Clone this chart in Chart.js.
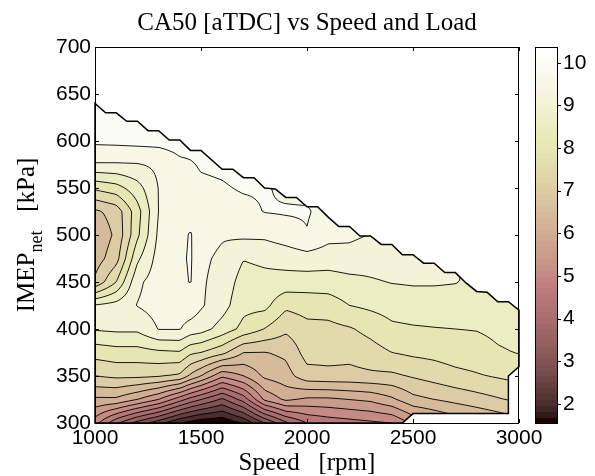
<!DOCTYPE html>
<html>
<head>
<meta charset="utf-8">
<script src="https://cdn.jsdelivr.net/npm/chart.js@4.4.1/dist/chart.umd.min.js"></script>
<style>
  html, body { margin: 0; padding: 0; background: #fff; }
</style>
</head>
<body>
<canvas id="chart" width="595" height="476"></canvas>
<script>
// engine speed columns [rpm] and load rows [kPa] of the CA50 map
const speeds = [1000, 1100, 1200, 1300, 1400, 1450, 1500, 1600, 1700, 1800, 1900, 2000, 2100, 2200, 2300, 2400, 2500, 2600, 2700, 2800, 2900, 3000];
const loads = [300, 325, 350, 375, 400, 425, 450, 475, 500, 525, 550, 575, 600, 625, 650];

// CA50 [deg aTDC], one row per load
const ca50At300 = [5.2, 4.1, 3.3, 2.7, 2.0, 1.8, 1.62, 1.55, 2.05, 3.0, 3.9, 4.5, 4.7, 4.8, 4.9, 5.0, 5.6, 5.9, 6.2, 6.4, 6.6, 6.8];
const ca50At325 = [6.4, 6.4, 6.0, 5.5, 4.7, 4.3, 4.0, 3.4, 4.2, 5.6, 6.1, 5.9, 5.9, 6.0, 6.1, 6.4, 6.85, 7.0, 7.15, 7.3, 7.45, 7.6];
const ca50At350 = [7.5, 7.6, 7.6, 7.55, 7.4, 6.9, 6.5, 5.6, 6.0, 6.6, 6.8, 7.3, 7.35, 7.35, 7.4, 7.4, 7.55, 7.7, 7.85, 7.95, 8.05, 8.15];
const ca50At375 = [8.2, 8.3, 8.3, 8.4, 8.45, 8.1, 8.0, 7.65, 7.0, 6.98, 7.1, 7.7, 7.7, 7.65, 7.8, 8.0, 8.1, 8.15, 8.25, 8.3, 8.45, 8.52];
const ca50At400 = [9.05, 9.1, 9.1, 9.52, 9.52, 9.3, 9.2, 8.8, 8.35, 7.98, 7.6, 7.85, 7.85, 7.95, 8.15, 8.4, 8.45, 8.48, 8.5, 8.52, 8.6, 8.65];
const ca50At425 = [9.05, 9.2, 9.52, 9.7, 9.75, 9.8, 9.56, 9.2, 8.65, 8.65, 8.1, 8.2, 8.25, 8.5, 8.6, 8.7, 8.75, 8.75, 8.75, 8.75, 8.75, 8.8];
const ca50At450 = [7.1, 8.0, 9.4, 9.75, 9.85, 10.03, 9.57, 9.3, 8.8, 8.85, 8.8, 8.75, 8.75, 8.85, 8.95, 9.02, 9.05, 9.05, 9.02, 8.9, 8.85, 8.85];
const ca50At475 = [6.75, 7.3, 8.9, 9.7, 9.9, 10.06, 9.6, 9.4, 9.02, 9.1, 9.2, 9.3, 9.25, 9.3, 9.2, 9.2, 9.15, 9.1, 9.05, 8.95, 8.9, 8.9];
const ca50At500 = [6.6, 7.1, 8.4, 9.6, 9.85, 10.04, 9.7, 9.55, 9.6, 9.6, 9.75, 9.97, 9.65, 9.6, 9.48, 9.3, 9.2, 9.1, 9.05, 8.95, 8.9, 8.9];
const ca50At525 = [6.9, 7.2, 8.3, 9.52, 9.8, 9.85, 9.8, 9.8, 9.85, 10.02, 10.05, 10.05, 9.8, 9.65, 9.5, 9.3, 9.2, 9.1, 9.05, 8.95, 8.9, 8.9];
const ca50At550 = [8.1, 8.3, 8.8, 9.52, 9.8, 9.85, 9.9, 9.95, 10.05, 10.05, 9.9, 9.85, 9.8, 9.65, 9.5, 9.3, 9.2, 9.1, 9.05, 8.95, 8.9, 8.9];
const ca50At575 = [9.45, 9.45, 9.47, 9.6, 9.9, 9.95, 10.05, 10.1, 10.2, 10.15, 9.9, 9.9, 9.8, 9.65, 9.5, 9.3, 9.2, 9.1, 9.05, 8.95, 8.9, 8.9];
const ca50At600 = [10.1, 10.12, 10.15, 10.15, 10.2, 10.2, 10.25, 10.25, 10.3, 10.2, 9.9, 9.9, 9.8, 9.65, 9.5, 9.3, 9.2, 9.1, 9.05, 8.95, 8.9, 8.9];
const ca50At625 = [10.3, 10.3, 10.3, 10.3, 10.3, 10.3, 10.3, 10.3, 10.3, 10.2, 9.9, 9.9, 9.8, 9.65, 9.5, 9.3, 9.2, 9.1, 9.05, 8.95, 8.9, 8.9];
const ca50At650 = [10.37, 10.35, 10.33, 10.32, 10.31, 10.3, 10.3, 10.3, 10.3, 10.2, 9.9, 9.9, 9.8, 9.65, 9.5, 9.3, 9.2, 9.1, 9.05, 8.95, 8.9, 8.9];
const ca50 = [ca50At300, ca50At325, ca50At350, ca50At375, ca50At400, ca50At425, ca50At450,
              ca50At475, ca50At500, ca50At525, ca50At550, ca50At575, ca50At600, ca50At625, ca50At650];

// operating envelope (measured area), speed / load pairs
const envSpeed = [1000, 1000, 1050, 1100, 1150, 1200, 1250, 1300, 1350, 1400, 1450, 1500, 1600, 1650, 1700, 1750, 1800, 1850,
                  1900, 1950, 2000, 2050, 2100, 2150, 2200, 2250, 2300, 2350, 2400, 2450, 2500, 2550, 2600, 2650, 2700,
                  2750, 2800, 2850, 2900, 2950, 3000, 3000, 2950, 2950, 2500, 2450];
const envLoad = [300, 640, 630, 630, 621, 621, 611, 611, 601, 601, 590, 590, 570, 570, 561, 561, 550, 549,
                 540, 540, 530, 530, 519, 509, 509, 499, 499, 490, 490, 479, 479, 470, 470, 460, 460,
                 449, 440, 439, 429, 429, 420, 360, 350, 310, 310, 300];

const levels = [2, 2.5, 3, 3.5, 4, 4.5, 5, 5.5, 6, 6.5, 7, 7.5, 8, 8.5, 9, 9.5, 10];
const xTicks = [1000, 1500, 2000, 2500, 3000];
const yTicks = [300, 350, 400, 450, 500, 550, 600, 650, 700];
const cbTicks = [2, 3, 4, 5, 6, 7, 8, 9, 10];
const cbMin = 1.55, cbMax = 10.37;

const sansFont = '"Liberation Sans", Arial, sans-serif';
const serifFont = '"Liberation Serif", "Times New Roman", serif';

// MATLAB style pink(64)
function pink(i) {
    const gray = i / 63;
    const r = Math.min(1, (i + 1) / 24);
    const g = Math.min(1, Math.max(0, (i + 1 - 24) / 24));
    const b = Math.max(0, (i + 1 - 48) / 16);
    return [r, g, b].map(h => Math.round(255 * Math.sqrt((2 * gray + h) / 3)));
}

function colorIndex(v) {
    const k = Math.floor((v - cbMin) / (cbMax - cbMin) * 64);
    return Math.max(0, Math.min(63, k));
}

function bandColor(z) {
    let lev = cbMin;
    for (const l of levels) if (z >= l) lev = l;
    return pink(colorIndex(lev));
}

function locate(arr, v) {
    let i = 0;
    while (i < arr.length - 2 && v > arr[i + 1]) i++;
    const f = (v - arr[i]) / (arr[i + 1] - arr[i]);
    return [i, Math.max(0, Math.min(1, f))];
}

function ca50At(s, L) {
    const [i, fx] = locate(speeds, s);
    const [j, fy] = locate(loads, L);
    const r0 = ca50[j], r1 = ca50[j + 1];
    const a = r0[i] * (1 - fx) + r0[i + 1] * fx;
    const b = r1[i] * (1 - fx) + r1[i + 1] * fx;
    return a * (1 - fy) + b * fy;
}

function envelopePath(ctx, xs, ys) {
    ctx.beginPath();
    envSpeed.forEach((s, k) => {
        const px = xs.getPixelForValue(s), py = ys.getPixelForValue(envLoad[k]);
        if (k === 0) ctx.moveTo(px, py); else ctx.lineTo(px, py);
    });
    ctx.closePath();
}

function noPadding(axis) {
    axis.paddingLeft = 0; axis.paddingRight = 0;
    axis.paddingTop = 0; axis.paddingBottom = 0;
}

const contourPlugin = {
    id: 'contourf',
    beforeDatasetsDraw(chart) {
        const ctx = chart.ctx;
        const xs = chart.scales.x, ys = chart.scales.y;
        const { left, top, right, bottom } = chart.chartArea;
        const w = Math.round(right - left), h = Math.round(bottom - top);

        // filled bands
        const off = document.createElement('canvas');
        off.width = w; off.height = h;
        const octx = off.getContext('2d');
        const img = octx.createImageData(w, h);
        for (let py = 0; py < h; py++) {
            const L = ys.getValueForPixel(top + py + 0.5);
            for (let px = 0; px < w; px++) {
                const s = xs.getValueForPixel(left + px + 0.5);
                const c = bandColor(ca50At(s, L));
                const o = (py * w + px) * 4;
                img.data[o] = c[0]; img.data[o + 1] = c[1]; img.data[o + 2] = c[2]; img.data[o + 3] = 255;
            }
        }
        octx.putImageData(img, 0, 0);

        ctx.save();
        envelopePath(ctx, xs, ys);
        ctx.clip();
        ctx.drawImage(off, left, top);

        // contour lines (marching squares on a fine sampling of the map)
        const step = 2;
        const nx = Math.ceil(w / step) + 1, ny = Math.ceil(h / step) + 1;
        const field = new Float64Array(nx * ny);
        for (let j = 0; j < ny; j++) {
            const L = ys.getValueForPixel(top + j * step);
            for (let i = 0; i < nx; i++) {
                field[j * nx + i] = ca50At(xs.getValueForPixel(left + i * step), L);
            }
        }
        ctx.beginPath();
        for (const lev of levels) {
            for (let j = 0; j < ny - 1; j++) {
                for (let i = 0; i < nx - 1; i++) {
                    const a = field[j * nx + i], b = field[j * nx + i + 1];
                    const c = field[(j + 1) * nx + i + 1], d = field[(j + 1) * nx + i];
                    const X = left + i * step, Y = top + j * step;
                    const pts = [];
                    if ((a >= lev) !== (b >= lev)) pts.push([X + step * (lev - a) / (b - a), Y]);
                    if ((b >= lev) !== (c >= lev)) pts.push([X + step, Y + step * (lev - b) / (c - b)]);
                    if ((d >= lev) !== (c >= lev)) pts.push([X + step * (lev - d) / (c - d), Y + step]);
                    if ((a >= lev) !== (d >= lev)) pts.push([X, Y + step * (lev - a) / (d - a)]);
                    for (let k = 0; k + 1 < pts.length; k += 2) {
                        ctx.moveTo(pts[k][0], pts[k][1]);
                        ctx.lineTo(pts[k + 1][0], pts[k + 1][1]);
                    }
                }
            }
        }
        ctx.strokeStyle = '#000';
        ctx.lineWidth = 0.9;
        ctx.stroke();
        ctx.restore();

        // outline of the measured area
        ctx.save();
        envelopePath(ctx, xs, ys);
        ctx.strokeStyle = '#000';
        ctx.lineWidth = 1.5;
        ctx.stroke();
        ctx.restore();
    },
    afterDraw(chart) {
        const ctx = chart.ctx;
        const xs = chart.scales.x, ys = chart.scales.y, cb = chart.scales.cb;
        const { left, top, right, bottom } = chart.chartArea;
        const tick = 4;

        ctx.save();
        ctx.strokeStyle = '#000';
        ctx.lineWidth = 1;
        // axes box and inward ticks on all sides
        ctx.strokeRect(left + 0.5, top + 0.5, right - left - 1, bottom - top);
        ctx.beginPath();
        xTicks.forEach(v => {
            const px = Math.round(xs.getPixelForValue(v)) + 0.5;
            ctx.moveTo(px, bottom); ctx.lineTo(px, bottom - tick);
            ctx.moveTo(px, top); ctx.lineTo(px, top + tick);
        });
        yTicks.forEach(v => {
            const py = Math.round(ys.getPixelForValue(v)) + 0.5;
            ctx.moveTo(left, py); ctx.lineTo(left + tick, py);
            ctx.moveTo(right, py); ctx.lineTo(right - tick, py);
        });
        ctx.stroke();

        // colour bar
        const cbLeft = 535, cbRight = 557;
        for (let i = 0; i < 64; i++) {
            const v0 = cbMin + (cbMax - cbMin) * i / 64;
            const v1 = cbMin + (cbMax - cbMin) * (i + 1) / 64;
            const y0 = cb.getPixelForValue(v1), y1 = cb.getPixelForValue(v0);
            const c = pink(i);
            ctx.fillStyle = `rgb(${c[0]},${c[1]},${c[2]})`;
            ctx.fillRect(cbLeft, Math.floor(y0), cbRight - cbLeft, Math.ceil(y1) - Math.floor(y0));
        }
        ctx.strokeRect(cbLeft + 0.5, cb.top + 0.5, cbRight - cbLeft, cb.bottom - cb.top);
        ctx.beginPath();
        cbTicks.forEach(v => {
            const py = Math.round(cb.getPixelForValue(v)) + 0.5;
            ctx.moveTo(cbRight, py); ctx.lineTo(cbRight + 4, py);
        });
        ctx.stroke();

        // titles
        ctx.fillStyle = '#000';
        ctx.font = `25px ${serifFont}`;
        ctx.textAlign = 'center';
        ctx.textBaseline = 'alphabetic';
        ctx.fillText('CA50 [aTDC] vs Speed and Load', (left + right) / 2, 30);
        ctx.fillText('Speed   [rpm]', (left + right) / 2, 470);

        // y title with subscript, rotated
        const mainFont = `25px ${serifFont}`, subFont = `18px ${serifFont}`;
        ctx.font = mainFont;
        const w1 = ctx.measureText('IMEP').width;
        const w3 = ctx.measureText('   [kPa]').width;
        ctx.font = subFont;
        const w2 = ctx.measureText('net').width;
        const total = w1 + w2 + w3;
        ctx.translate(33.5, (top + bottom) / 2);
        ctx.rotate(-Math.PI / 2);
        ctx.textAlign = 'left';
        let x0 = -total / 2;
        ctx.font = mainFont;
        ctx.fillText('IMEP', x0, 0);
        ctx.font = subFont;
        ctx.fillText('net', x0 + w1, 8);
        ctx.font = mainFont;
        ctx.fillText('   [kPa]', x0 + w1 + w2, 0);
        ctx.restore();
    }
};

new Chart(document.getElementById('chart'), {
    type: 'scatter',
    data: { datasets: [{ data: [], pointRadius: 0 }] },
    options: {
        responsive: false,
        animation: false,
        devicePixelRatio: 1,
        layout: { padding: { top: 47, left: 0, right: 0, bottom: 0 } },
        plugins: { legend: { display: false }, tooltip: { enabled: false }, title: { display: false } },
        scales: {
            x: {
                type: 'linear', min: 1000, max: 3000,
                afterBuildTicks: axis => { axis.ticks = xTicks.map(v => ({ value: v })); },
                afterFit: axis => { axis.height = 53; noPadding(axis); },
                grid: { display: false, drawTicks: false, tickLength: 0 },
                border: { display: false },
                ticks: { color: '#000', font: { family: sansFont, size: 21 }, padding: 3, maxRotation: 0,
                         callback: v => String(v) }
            },
            y: {
                type: 'linear', min: 300, max: 700,
                afterBuildTicks: axis => { axis.ticks = yTicks.map(v => ({ value: v })); },
                afterFit: axis => { axis.width = 95; noPadding(axis); },
                grid: { display: false, drawTicks: false, tickLength: 0 },
                border: { display: false },
                ticks: { color: '#000', font: { family: sansFont, size: 21 }, padding: 4, callback: v => String(v) }
            },
            cb: {
                axis: 'y', type: 'linear', position: 'right', min: cbMin, max: cbMax,
                afterBuildTicks: axis => { axis.ticks = cbTicks.map(v => ({ value: v })); },
                afterFit: axis => { axis.width = 76; noPadding(axis); },
                grid: { display: false, drawTicks: false, tickLength: 0 },
                border: { display: false },
                ticks: { color: '#000', font: { family: sansFont, size: 21 }, padding: 44, callback: v => String(v) }
            }
        }
    },
    plugins: [contourPlugin]
});
</script>
</body>
</html>
